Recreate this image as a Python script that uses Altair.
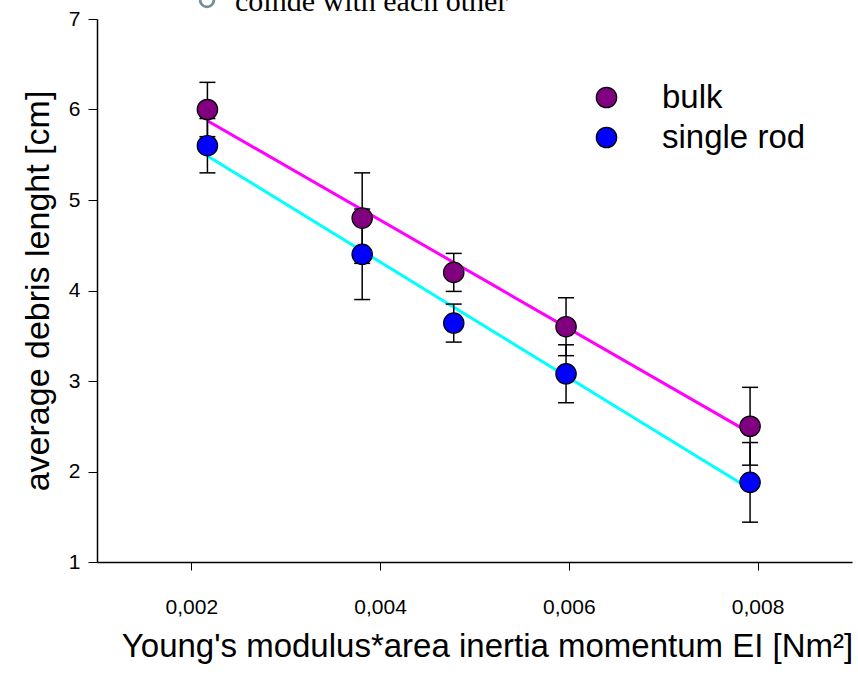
import altair as alt
import pandas as pd

# Series and measurements
series_names = ["bulk", "single rod"]
ei_values = [0.00217, 0.00381, 0.00478, 0.00597, 0.00792]
bulk_length = [6.0, 4.8, 4.2, 3.6, 2.5]
bulk_error = [0.30, 0.50, 0.21, 0.32, 0.43]
rod_length = [5.6, 4.4, 3.64, 3.08, 1.88]
rod_error = [0.30, 0.50, 0.21, 0.32, 0.44]

# Axis ticks
x_ticks = [0.002, 0.004, 0.006, 0.008]
y_ticks = [1, 2, 3, 4, 5, 6, 7]

note_text = "coinde with each other"

point_colors = ["#800080", "#0000ff"]
fit_colors = ["#ff00ff", "#00ffff"]

rows = []
for name, ys, errs in (
    (series_names[0], bulk_length, bulk_error),
    (series_names[1], rod_length, rod_error),
):
    for x, y, e in zip(ei_values, ys, errs):
        rows.append({"series": name, "ei": x, "length": y,
                     "low": y - e, "high": y + e})
df = pd.DataFrame(rows)

FONT = "Liberation Sans"
x_title = "Young's modulus*area inertia momentum EI [Nm\u00b2]"
y_title = "average debris lenght [cm]"

x_enc = alt.X(
    "ei:Q",
    scale=alt.Scale(domain=[0.001, 0.009], nice=False, zero=False),
    title=x_title,
    axis=alt.Axis(
        values=x_ticks,
        labelExpr="replace(format(datum.value, '.3f'), '.', ',')",
        tickSize=8, labelPadding=26,
        titlePadding=13, titleX=390,
    ),
)


def y_of(field):
    return alt.Y(
        f"{field}:Q",
        scale=alt.Scale(domain=[1, 7], nice=False, zero=False),
        title=y_title,
        axis=alt.Axis(
            values=y_ticks, format="d",
            tickSize=9, labelPadding=8,
            titlePadding=13,
        ),
    )


base = alt.Chart(df)

# Least-squares fit line for each series, in its own colour
fits = [
    base.transform_filter(alt.datum.series == name)
    .transform_regression("ei", "length")
    .mark_line(strokeWidth=3, color=col)
    .encode(x=x_enc, y=y_of("length"))
    for name, col in zip(series_names, fit_colors)
]

bars = base.mark_rule(color="black", strokeWidth=1.5).encode(
    x=x_enc, y=y_of("low"), y2="high:Q"
)
cap_low = base.mark_tick(orient="horizontal", size=16, thickness=1.5,
                         color="black", opacity=1).encode(x=x_enc, y=y_of("low"))
cap_high = base.mark_tick(orient="horizontal", size=16, thickness=1.5,
                          color="black", opacity=1).encode(x=x_enc, y=y_of("high"))

points = base.mark_circle(size=415, opacity=1, stroke="black",
                          strokeWidth=1.2).encode(
    x=x_enc,
    y=y_of("length"),
    color=alt.Color(
        "series:N",
        scale=alt.Scale(domain=series_names, range=point_colors),
        legend=alt.Legend(
            title=None, orient="none", legendX=493, legendY=62,
            symbolType="circle", symbolSize=415,
            symbolStrokeColor="black", symbolStrokeWidth=1.2,
            symbolOpacity=1,
            labelFont=FONT, labelFontSize=33, labelColor="black",
            labelOffset=39, rowPadding=6, padding=0,
        ),
    ),
)

note_df = pd.DataFrame({"note": [note_text]})
note = alt.Chart(note_df).mark_text(
    font="Liberation Serif", fontSize=30, align="left",
    baseline="alphabetic", color="black",
).encode(text="note:N", x=alt.value(138), y=alt.value(-8))
bullet = alt.Chart(note_df).mark_point(
    shape="circle", size=190, strokeWidth=2.8, color="#6f8d9b",
    filled=False, opacity=1,
).encode(x=alt.value(110), y=alt.value(-19))

chart = alt.layer(*fits, bars, cap_low, cap_high, points, note, bullet).properties(
    width=755, height=543,
    autosize=alt.AutoSizeParams(type="none"),
    padding={"left": 97, "top": 19, "right": 6, "bottom": 112},
).configure_view(stroke=None).configure_axis(
    grid=False, domainColor="black", domainWidth=1.5,
    tickColor="black", tickWidth=1,
    labelColor="black", titleColor="black",
    labelFont=FONT, titleFont=FONT, titleFontWeight="normal",
    labelFontSize=21,
).configure_axisX(titleFontSize=33).configure_axisY(titleFontSize=34)

chart.save("out.html", embed_options={"renderer": "svg", "actions": False})
